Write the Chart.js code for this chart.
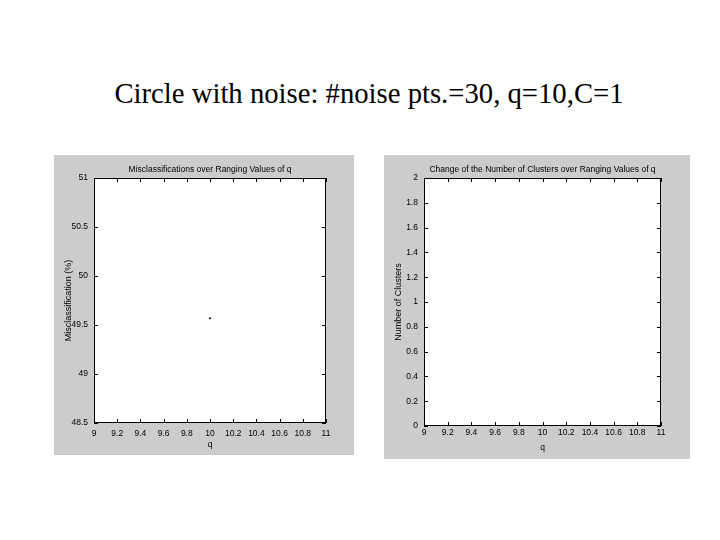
<!DOCTYPE html>
<html>
<head>
<meta charset="utf-8">
<script src="https://cdn.jsdelivr.net/npm/chart.js@4.4.0/dist/chart.umd.min.js"></script>
<style>
  body { margin: 0; background: #fff; width: 720px; height: 540px; position: relative; overflow: hidden; }
  #titre { position: absolute; left: 0; top: 77px; width: 738px; text-align: center;
           font-family: "Liberation Serif", "Times New Roman", serif; font-size: 28.7px; color: #000; }
  .panel { position: absolute; background: #cccccc; }
</style>
</head>
<body>
<div id="titre">Circle with noise: #noise pts.=30, q=10,C=1</div>
<div class="panel" style="left:54px; top:155px; width:300px; height:300px;"><canvas id="gMiss"></canvas></div>
<div class="panel" style="left:384px; top:155px; width:306px; height:304px;"><canvas id="gClus"></canvas></div>
<script>
// dados
const qValores = [10];
const missValores = [49.57];
const clusterValores = [1];
const qTicks = [9, 9.2, 9.4, 9.6, 9.8, 10, 10.2, 10.4, 10.6, 10.8, 11];
const missTicks = [48.5, 49, 49.5, 50, 50.5, 51];
const clusterTicks = [0, 0.2, 0.4, 0.6, 0.8, 1, 1.2, 1.4, 1.6, 1.8, 2];

const fonte = { family: '"Liberation Sans Narrow", "Liberation Sans", Arial, sans-serif', size: 8.5, weight: 'normal' };
const fonteEixo = { family: '"Liberation Sans", Arial, sans-serif', size: 9, weight: 'normal' };

// marcas de escala para dentro, estilo matlab, nos quatro lados
const ticksDentro = {
  id: 'ticksDentro',
  afterDraw(chart) {
    const c = chart.ctx, a = chart.chartArea;
    const x = chart.scales.x, y = chart.scales.y;
    c.save();
    c.strokeStyle = '#000';
    c.lineWidth = 1;
    c.strokeRect(a.left + 0.5, a.top + 0.5, a.right - a.left - 1, a.bottom - a.top - 1);
    c.beginPath();
    x.ticks.forEach(t => {
      const px = Math.round(x.getPixelForValue(t.value)) + 0.5;
      c.moveTo(px, a.bottom); c.lineTo(px, a.bottom - 4);
      c.moveTo(px, a.top); c.lineTo(px, a.top + 4);
    });
    y.ticks.forEach(t => {
      const py = Math.round(y.getPixelForValue(t.value)) + 0.5;
      c.moveTo(a.left, py); c.lineTo(a.left + 4, py);
      c.moveTo(a.right, py); c.lineTo(a.right - 4, py);
    });
    c.stroke();
    // titulo centrado sobre a area do grafico
    c.fillStyle = '#000';
    c.font = '8.5px "Liberation Sans Narrow", "Liberation Sans", Arial, sans-serif';
    c.textAlign = 'center';
    c.textBaseline = 'middle';
    c.fillText(chart.options.plugins.tituloTxt.text, (a.left + a.right) / 2, 15);
    c.restore();
  }
};

function fundoBranco(id) {
  return {
    id: 'fundo' + id,
    beforeDraw(chart) {
      const a = chart.chartArea;
      chart.ctx.fillStyle = '#fff';
      chart.ctx.fillRect(a.left, a.top, a.right - a.left, a.bottom - a.top);
    }
  };
}

function criarGrafico(canvasId, larg, alt, titulo, yTitulo, valores, yTicks, padBaixo, padFim, padDir, padTick, raio) {
  const cv = document.getElementById(canvasId);
  cv.width = larg; cv.height = alt;
  const yMin = yTicks[0], yMax = yTicks[yTicks.length - 1];
  return new Chart(cv.getContext('2d'), {
    type: 'scatter',
    data: {
      datasets: [{
        data: qValores.map((q, i) => ({ x: q, y: valores[i] })),
        pointRadius: raio,
        pointBackgroundColor: '#000',
        pointBorderWidth: 0,
        showLine: false
      }]
    },
    options: {
      responsive: false,
      animation: false,
      layout: { padding: { top: 23, right: padDir, bottom: padFim, left: 0 } },
      plugins: {
        legend: { display: false },
        tooltip: { enabled: false },
        title: { display: false },
        tituloTxt: { text: titulo }
      },
      scales: {
        x: {
          type: 'linear', min: 9, max: 11,
          afterBuildTicks: s => { s.ticks = qTicks.map(v => ({ value: v })); },
          afterFit: s => { s.height = padBaixo; },
          grid: { display: false, drawTicks: false },
          border: { display: false },
          ticks: { color: '#000', font: fonte, padding: padTick, maxRotation: 0, autoSkip: false,
                   callback: v => String(v) },
          title: { display: true, text: 'q', color: '#000', font: fonte, padding: 0 }
        },
        y: {
          type: 'linear', min: yMin, max: yMax,
          afterBuildTicks: s => { s.ticks = yTicks.map(v => ({ value: v })); },
          afterFit: s => { s.width = 40; },
          grid: { display: false, drawTicks: false },
          border: { display: false },
          ticks: { color: '#000', font: fonte, padding: 6, autoSkip: false,
                   callback: v => String(v) },
          title: { display: true, text: yTitulo, color: '#000', font: fonteEixo, padding: { top: 9, bottom: 0 } }
        }
      }
    },
    plugins: [fundoBranco(canvasId), ticksDentro]
  });
}

criarGrafico('gMiss', 300, 300, 'Misclassifications over Ranging Values of q',
  'Misclassification (%)', missValores, missTicks, 27, 5, 28, 6, 1);
criarGrafico('gClus', 306, 304, 'Change of the Number of Clusters over Ranging Values of q',
  'Number of Clusters', clusterValores, clusterTicks, 27, 6, 29, 2, 0);
</script>
</body>
</html>
